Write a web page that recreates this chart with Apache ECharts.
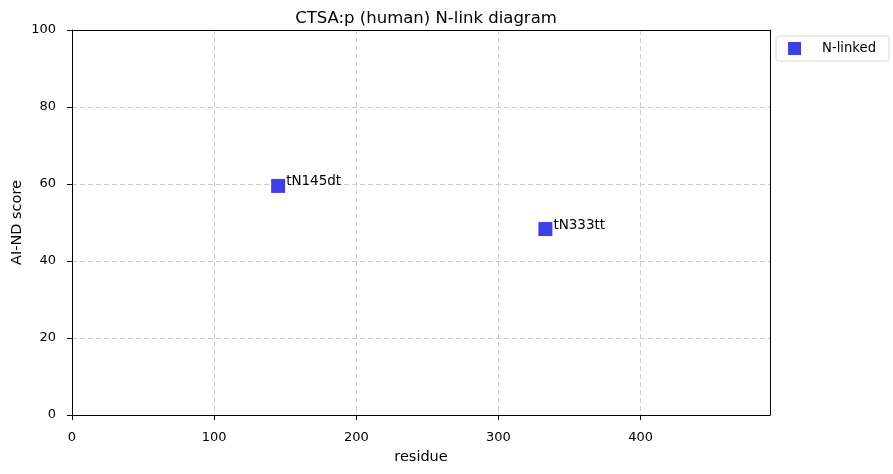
<!DOCTYPE html>
<html><head><meta charset="utf-8">
<script src="https://cdn.jsdelivr.net/npm/echarts@6/dist/echarts.min.js"></script>
<style>html,body{margin:0;padding:0;background:#fff}#c{width:893px;height:474px}</style>
</head><body><div id="c"></div>
<script>
const siteLabels = ["tN145dt", "tN333tt"];
const residues = [145, 333];
const scores = [59.5, 48.3];
const xTicks = [0, 100, 200, 300, 400];
const yTicks = [0, 20, 40, 60, 80, 100];

const chart = echarts.init(document.getElementById('c'));
const font = 'DejaVu Sans';
const frameAxis = {
  type: 'value', axisLine: {show: true, onZero: false, lineStyle: {color: '#000'}},
  axisTick: {show: false}, axisLabel: {show: false}, splitLine: {show: false}
};
chart.setOption({
  animation: false,
  title: {text: 'CTSA:p (human) N-link diagram', left: 421, textAlign: 'center', top: 5,
    textStyle: {fontFamily: font, fontSize: 16.5, fontWeight: 'normal', color: '#000'}},
  grid: {left: 72, right: 123, top: 30, bottom: 59, show: false, containLabel: false, outerBoundsMode: 'none'},
  legend: {right: 4, top: 36, orient: 'vertical', itemWidth: 13, itemHeight: 13, itemGap: 5,
    padding: [6, 13, 6, 12], borderColor: '#d9d9d9', borderWidth: 1, borderRadius: 3,
    textStyle: {fontFamily: font, fontSize: 13.2, color: '#000', padding: [0, 0, 0, 16]},
    data: [{name: 'N-linked', icon: 'rect'}]},
  xAxis: [{type: 'value', min: 0, max: 491, interval: 100, name: 'residue', nameLocation: 'middle', nameGap: 35,
    nameMoveOverlap: false,
    nameTextStyle: {fontFamily: font, fontSize: 14.5, color: '#000'},
    axisLine: {show: true, lineStyle: {color: '#000'}}, axisTick: {show: true, length: 5, lineStyle: {color: '#000'}},
    axisLabel: {fontFamily: font, fontSize: 13, color: '#000', margin: 16, showMaxLabel: false},
    splitLine: {show: true, lineStyle: {color: '#cccccc', type: [5, 3]}}},
    Object.assign({}, frameAxis, {position: 'top', min: 0, max: 491})],
  yAxis: [{type: 'value', min: 0, max: 100, interval: 20, name: 'AI-ND score', nameLocation: 'middle', nameGap: 47,
    nameMoveOverlap: false,
    nameTextStyle: {fontFamily: font, fontSize: 14.5, color: '#000'},
    axisLine: {show: true, lineStyle: {color: '#000'}}, axisTick: {show: true, length: 5, lineStyle: {color: '#000'}},
    axisLabel: {fontFamily: font, fontSize: 13, color: '#000', margin: 16},
    splitLine: {show: true, lineStyle: {color: '#cccccc', type: [5, 3]}}},
    Object.assign({}, frameAxis, {position: 'right', min: 0, max: 100})],
  series: [{
    name: 'N-linked', type: 'scatter', symbol: 'rect', symbolSize: 14,
    itemStyle: {color: '#3f3fe8', opacity: 1},
    data: residues.map((r, i) => ({value: [r, scores[i]], name: siteLabels[i]})),
    label: {show: true, position: 'right', distance: 1, offset: [0, -4], formatter: p => p.name,
      fontFamily: font, fontSize: 13.5, color: '#000'}
  }]
});
</script></body></html>
